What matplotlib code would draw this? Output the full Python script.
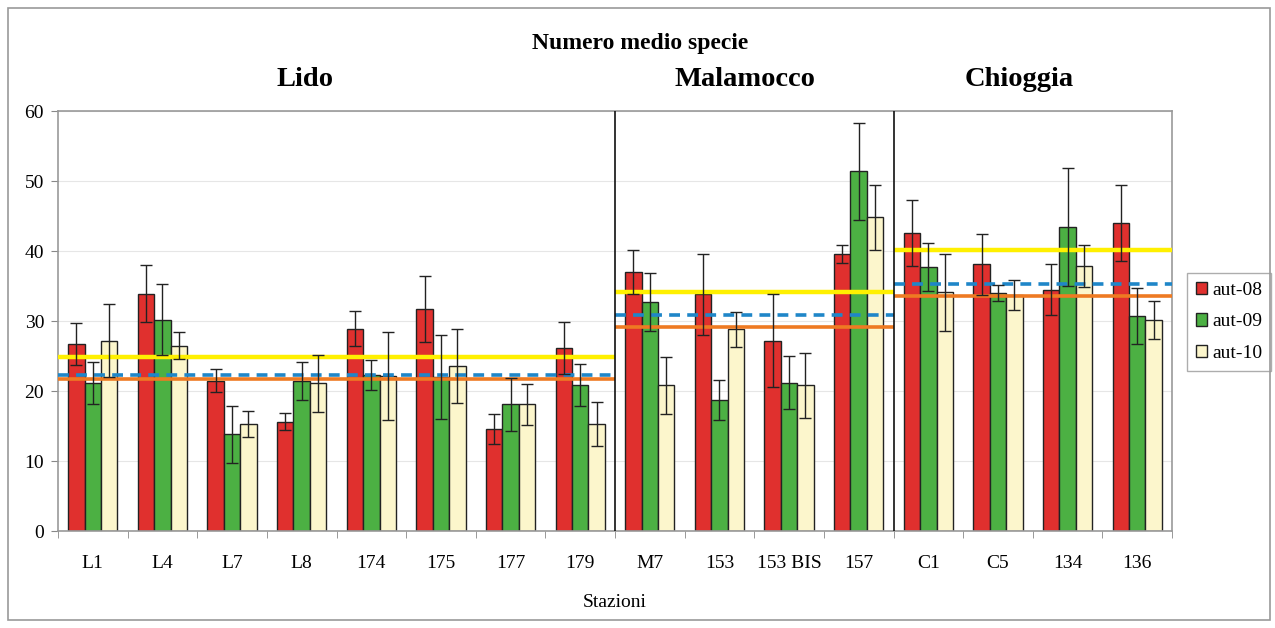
import matplotlib
matplotlib.use("Agg")
import matplotlib.pyplot as plt
from matplotlib.patches import Rectangle
import numpy as np

plt.rcParams['font.family'] = ['Liberation Serif', 'DejaVu Serif']

stations = ['L1', 'L4', 'L7', 'L8', '174', '175', '177', '179',
            'M7', '153', '153 BIS', '157', 'C1', 'C5', '134', '136']
series = ['aut-08', 'aut-09', 'aut-10']

aut08 = [26.7, 33.9, 21.5, 15.6, 28.9, 31.7, 14.6, 26.1,
         37.0, 33.8, 27.2, 39.6, 42.6, 38.1, 34.5, 44.0]
aut09 = [21.2, 30.2, 13.8, 21.4, 22.3, 22.0, 18.1, 20.8,
         32.7, 18.7, 21.2, 51.4, 37.7, 34.0, 43.4, 30.7]
aut10 = [27.2, 26.5, 15.3, 21.1, 22.1, 23.6, 18.1, 15.3,
         20.8, 28.8, 20.8, 44.8, 34.1, 33.7, 37.9, 30.2]
err08 = [3.0, 4.1, 1.6, 1.2, 2.5, 4.7, 2.1, 3.7,
         3.1, 5.8, 6.6, 1.3, 4.7, 4.4, 3.6, 5.4]
err09 = [3.0, 5.1, 4.1, 2.7, 2.2, 6.0, 3.8, 3.0,
         4.1, 2.9, 3.8, 6.9, 3.4, 1.2, 8.4, 4.0]
err10 = [5.2, 1.9, 1.8, 4.1, 6.3, 5.3, 2.9, 3.2,
         4.1, 2.5, 4.7, 4.7, 5.5, 2.1, 3.0, 2.7]

# zone name, first station index, last station index
zones = [('Lido', 0, 7), ('Malamocco', 8, 11), ('Chioggia', 12, 15)]
# reference lines per zone (yellow, blue dashed, orange)
yellow_ref = [24.8, 34.1, 40.1]
blue_ref = [22.3, 30.9, 35.3]
orange_ref = [21.7, 29.1, 33.6]

colors = ['#e0302e', '#4cb043', '#fcf6cc']

fig = plt.figure(figsize=(12.75, 6.28), dpi=100)
ax = fig.add_axes([58 / 1275, 1 - 531 / 628, 1114 / 1275, 420 / 628])

x = np.arange(len(stations))
w = 0.236
for i, (vals, errs) in enumerate(zip([aut08, aut09, aut10], [err08, err09, err10])):
    ax.bar(x + (i - 1) * w, vals, w, color=colors[i], edgecolor='#222222',
           linewidth=1.0, label=series[i], zorder=2)
    ax.errorbar(x + (i - 1) * w, vals, yerr=errs, fmt='none', ecolor='#222222',
                elinewidth=1.0, capsize=4, capthick=1.0, zorder=5)

for k, (name, a, b) in enumerate(zones):
    x0, x1 = a - 0.5, b + 0.5
    ax.plot([x0, x1], [yellow_ref[k]] * 2, color='#fff000', lw=3.2, zorder=3,
            solid_capstyle='butt')
    ax.plot([x0, x1], [orange_ref[k]] * 2, color='#ee7a22', lw=2.6, zorder=3,
            solid_capstyle='butt')
    ax.plot([x0, x1], [blue_ref[k]] * 2, color='#1f86c8', lw=2.6, ls=(0, (3, 2)),
            zorder=4, dash_capstyle='butt')
    if a > 0:
        ax.axvline(a - 0.5, color='#111111', lw=1.2, zorder=6)

ax.set_xlim(-0.5, len(stations) - 0.5)
ax.set_ylim(0, 60)
ax.set_yticks(range(0, 61, 10))
ax.set_xticks(x)
ax.set_xticklabels(stations)
ax.set_xticks(np.arange(-0.5, len(stations), 1), minor=True)
ax.tick_params(axis='x', which='major', length=0, pad=17, labelsize=14)
ax.tick_params(axis='x', which='minor', length=5, color='#888888')
ax.tick_params(axis='y', length=5, color='#888888', labelsize=14, pad=5)
ax.grid(axis='y', color='#e6e6e6', lw=0.8, zorder=0)
for s in ax.spines.values():
    s.set_color('#999999')
    s.set_linewidth(1.2)

ax.set_xlabel('Stazioni', fontsize=14, labelpad=16)

fig.text(640 / 1275, 1 - 44 / 628, 'Numero medio specie', ha='center', va='center',
         fontsize=17, fontweight='bold')
zone_x = [305, 745, 1019]
for (name, a, b), zx in zip(zones, zone_x):
    fig.text(zx / 1275, 1 - 80 / 628, name, ha='center', va='center',
             fontsize=20.5, fontweight='bold')

leg = ax.legend(loc='center left', bbox_to_anchor=(1.0135, 0.498), fontsize=14,
                frameon=True, fancybox=False, edgecolor='#999999',
                handlelength=0.6, handleheight=0.6, handletextpad=0.25,
                labelspacing=0.75, borderpad=0.45, borderaxespad=0)

fig.patches.append(Rectangle((8 / 1275, 8 / 628), 1262 / 1275, 612 / 628,
                             transform=fig.transFigure, fill=False,
                             edgecolor='#999999', lw=1.2))

fig.savefig('out.png', dpi=100)
